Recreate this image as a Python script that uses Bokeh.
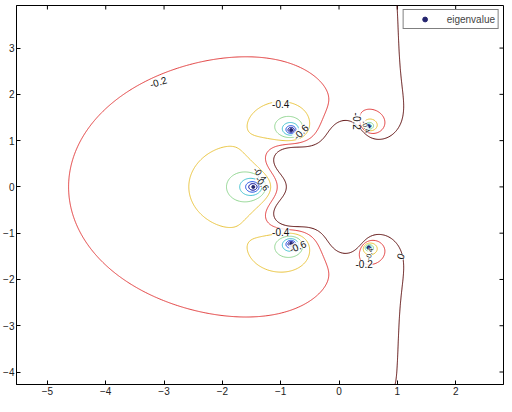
import numpy as np
from bokeh.plotting import figure
from bokeh.models import Range1d, FixedTicker, Label, Legend, LegendItem
from bokeh.embed import file_html
from bokeh.resources import INLINE

# eigenvalues (zeros of the plotted function)
eig_re = [-1.47, -0.82, -0.82, 0.51, 0.51]
eig_im = [0.0, 1.23, -1.23, 1.31, -1.31]
# poles / far zeros of the plotted function (estimated from the contour shapes)
pole_re = [0.255, 0.255, 0.457, 0.457, -0.835, -0.835, 2.741]
pole_im = [1.144, -1.144, 7.28, -7.28, 0.603, -0.603, 0.0]
far_zero_re = [1.662, 1.662]
far_zero_im = [7.19, -7.19]
log_gain = 0.02

levels = [-1.2, -1.0, -0.8, -0.6, -0.4, -0.2, 0.0]
level_colors = ["#00008f", "#1f4fe0", "#3fbfcf", "#8fd48f", "#e8c23a", "#e03a3a", "#5a0a0a"]

x_ticks = [-5, -4, -3, -2, -1, 0, 1, 2]
y_ticks = [-4, -3, -2, -1, 0, 1, 2, 3]

lab_x = [-3.10, -1.00, -0.66, -1.00, -0.71, -1.36, -1.32, 0.30, 0.46, 0.43, 0.52, 1.05]
lab_y = [2.27, 1.79, 1.19, -0.97, -1.28, 0.27, 0.07, 1.42, 1.30, -1.66, -1.45, -1.50]
lab_t = ["-0.2", "-0.4", "-0.6", "-0.4", "-0.6", "-0.4", "-0.6", "-0.2", "-0.4", "-0.2", "-0.4", "0"]
lab_a = [0.3, 0.0, 0.8, 0.0, 0.4, -0.9, -0.9, -1.5708, -1.2, 0.0, 1.3, 1.2]
lab_s = ["10px", "10px", "10px", "10px", "10px", "9px", "9px", "10px", "7px", "10px", "7px", "10px"]

zeros = np.concatenate([np.array(eig_re) + 1j * np.array(eig_im),
                        np.array(far_zero_re) + 1j * np.array(far_zero_im)])
poles = np.array(pole_re) + 1j * np.array(pole_im)

xmin, xmax, ymin, ymax = -5.53, 2.82, -4.27, 3.92
xs = np.linspace(xmin, xmax, 520)
ys = np.linspace(ymin, ymax, 520)
X, Y = np.meshgrid(xs, ys)
Zg = X + 1j * Y
F = (np.log(np.abs(Zg[..., None] - zeros) + 1e-12).sum(-1)
     - np.log(np.abs(Zg[..., None] - poles) + 1e-12).sum(-1)) / np.log(10) + log_gain
F = np.clip(F, -3, 3)

W, H = 504, 404
BL, BR, BT, BB = 15, 1, 5, 20
p = figure(width=W, height=H, x_range=Range1d(xmin, xmax), y_range=Range1d(ymin, ymax),
           output_backend="svg", toolbar_location=None,
           min_border_left=BL, min_border_right=BR, min_border_top=BT, min_border_bottom=BB)
p.background_fill_color = "white"
p.border_fill_color = "white"
p.outline_line_color = "black"
p.outline_line_width = 1
p.xgrid.visible = False
p.ygrid.visible = False

for ax, tk in [(p.xaxis[0], x_ticks), (p.yaxis[0], y_ticks)]:
    ax.ticker = FixedTicker(ticks=tk)
    ax.major_tick_in = 4
    ax.major_tick_out = 0
    ax.minor_tick_line_color = None
    ax.major_label_text_font = "Liberation Sans"
    ax.major_label_text_font_size = "10px"
    ax.major_label_text_color = "#222222"
    ax.major_label_standoff = 2
    ax.axis_line_color = "black"

# inward ticks on the top and right edges of the box
tx = 4 * (xmax - xmin) / (W - BL - BR)
ty = 4 * (ymax - ymin) / (H - BT - BB)
p.segment(x0=x_ticks, y0=[ymax] * len(x_ticks), x1=x_ticks, y1=[ymax - ty] * len(x_ticks),
          line_color="black", line_width=1)
p.segment(x0=[xmax] * len(y_ticks), y0=y_ticks, x1=[xmax - tx] * len(y_ticks), y1=y_ticks,
          line_color="black", line_width=1)

p.contour(xs, ys, F, levels, line_color=level_colors, line_width=1, fill_color=None)

for x, y, t, a, s in zip(lab_x, lab_y, lab_t, lab_a, lab_s):
    p.add_layout(Label(x=x, y=y, text=t, angle=a, text_font="Liberation Sans",
                       text_font_size=s, text_color="#111111",
                       text_align="center", text_baseline="middle",
                       background_fill_color="white", background_fill_alpha=0.85))

eig = p.scatter(eig_re, eig_im, marker="circle", size=3, color="#24246e")

legend = Legend(items=[LegendItem(label="eigenvalue", renderers=[eig])],
                location="top_right", label_text_font="Liberation Sans",
                label_text_font_size="10px", glyph_width=36, glyph_height=12,
                padding=3, margin=4, spacing=0, label_standoff=4,
                border_line_color="black", border_line_width=1,
                background_fill_color="white")
p.add_layout(legend)

open("out.html", "w").write(file_html(p, INLINE))
